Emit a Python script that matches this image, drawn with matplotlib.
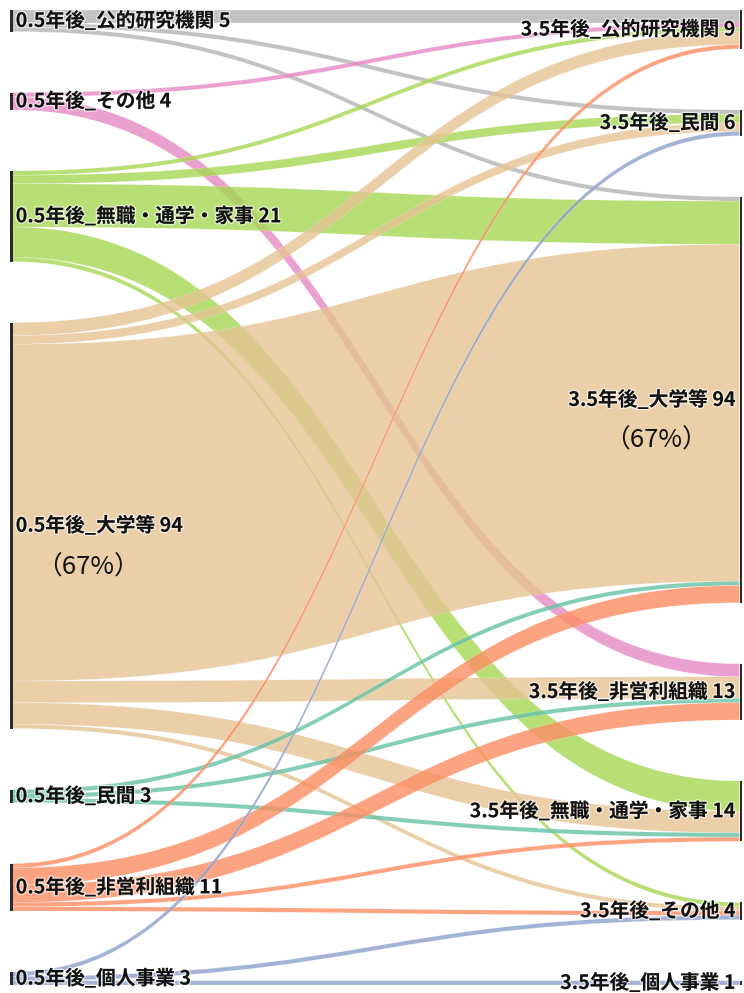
import matplotlib
matplotlib.use('Agg')
import matplotlib.pyplot as plt
from matplotlib.path import Path
from matplotlib.patches import PathPatch, Rectangle
import matplotlib.patheffects as pe

plt.rcParams['font.family'] = ['Noto Sans CJK JP', 'DejaVu Sans']

# ---------------- data ----------------
left_prefix = '0.5年後_'
right_prefix = '3.5年後_'
left_names = ['公的研究機関', 'その他', '無職・通学・家事', '大学等', '民間', '非営利組織', '個人事業']
right_names = ['公的研究機関', '民間', '大学等', '非営利組織', '無職・通学・家事', 'その他', '個人事業']
left_colors = ['#b3b3b3', '#e78ac3', '#a6d854', '#e5c494', '#66c2a5', '#fc8d62', '#8da0cb']

link_source = [0, 0, 0,
               1, 1,
               2, 2, 2, 2, 2,
               3, 3, 3, 3, 3, 3,
               4, 4, 4,
               5, 5, 5, 5, 5,
               6, 6, 6]
link_target = [0, 1, 2,
               0, 3,
               0, 1, 2, 4, 5,
               0, 1, 2, 3, 4, 5,
               2, 3, 4,
               0, 2, 3, 4, 5,
               1, 5, 6]
link_value = [3, 1, 1,
              1, 3,
              1, 2, 10, 7, 1,
              3, 2, 78, 5, 5, 1,
              1, 1, 1,
              1, 4, 4, 1, 1,
              1, 1, 1]
pct_node = '大学等'

# ---------------- layout ----------------
W, H = 744, 993
x_left, x_right = 10.0, 739.5
node_w = 2.7
top, bottom, pad = 10.0, 985.0, 61.0
alpha = 0.8

nL, nR = len(left_names), len(right_names)
left_tot = [sum(v for s, v in zip(link_source, link_value) if s == i) for i in range(nL)]
right_tot = [sum(v for t, v in zip(link_target, link_value) if t == j) for j in range(nR)]
grand = sum(link_value)
k = (bottom - top - pad * (nL - 1)) / grand


def starts(tot):
    out, y = [], top
    for v in tot:
        out.append(y)
        y += v * k + pad
    return out


left_y = starts(left_tot)
right_y = starts(right_tot)

fig = plt.figure(figsize=(W / 100, H / 100), dpi=100)
ax = fig.add_axes([0, 0, 1, 1])
ax.set_xlim(0, W)
ax.set_ylim(H, 0)
ax.axis('off')

idx = list(range(len(link_value)))
src_off = {}
cur = {i: left_y[i] for i in range(nL)}
for l in sorted(idx, key=lambda l: (link_source[l], link_target[l])):
    src_off[l] = cur[link_source[l]]
    cur[link_source[l]] += link_value[l] * k
tgt_off = {}
cur = {j: right_y[j] for j in range(nR)}
for l in sorted(idx, key=lambda l: (link_target[l], link_source[l])):
    tgt_off[l] = cur[link_target[l]]
    cur[link_target[l]] += link_value[l] * k

x0 = x_left + node_w
x1 = x_right
xm = (x0 + x1) / 2
for l in idx:
    s0 = src_off[l]
    s1 = s0 + link_value[l] * k
    t0 = tgt_off[l]
    t1 = t0 + link_value[l] * k
    verts = [(x0, s0), (xm, s0), (xm, t0), (x1, t0),
             (x1, t1), (xm, t1), (xm, s1), (x0, s1), (x0, s0)]
    codes = [Path.MOVETO, Path.CURVE4, Path.CURVE4, Path.CURVE4,
             Path.LINETO, Path.CURVE4, Path.CURVE4, Path.CURVE4, Path.CLOSEPOLY]
    ax.add_patch(PathPatch(Path(verts, codes), facecolor=left_colors[link_source[l]],
                           alpha=alpha, edgecolor='white', linewidth=0.15, zorder=2))

for i in range(nL):
    ax.add_patch(Rectangle((x_left, left_y[i]), node_w, left_tot[i] * k,
                           facecolor='#2a2a2a', edgecolor='none', zorder=3))
for j in range(nR):
    ax.add_patch(Rectangle((x_right, right_y[j]), node_w, right_tot[j] * k,
                           facecolor='#2a2a2a', edgecolor='none', zorder=3))

fx = [pe.withStroke(linewidth=2.0, foreground=(1, 1, 1, 0.6))]
fs = 14.2
pct_fs = 18.5
for i in range(nL):
    yc = left_y[i] + left_tot[i] * k / 2
    ax.text(x0 + 3, yc, f'{left_prefix}{left_names[i]} {left_tot[i]}', ha='left', va='center',
            fontsize=fs, fontweight='bold', color='#111111', zorder=5, path_effects=fx)
    if left_names[i] == pct_node:
        ax.text(x0 + 3 + 72, yc + 42, f'（{round(100 * left_tot[i] / grand)}%）', ha='center', va='center',
                fontsize=pct_fs, color='#111111', zorder=5)
for j in range(nR):
    yc = right_y[j] + right_tot[j] * k / 2
    ax.text(x_right - 4, yc, f'{right_prefix}{right_names[j]} {right_tot[j]}', ha='right', va='center',
            fontsize=fs, fontweight='bold', color='#111111', zorder=5, path_effects=fx)
    if right_names[j] == pct_node:
        ax.text(x_right - 4 - 80, yc + 41, f'（{round(100 * right_tot[j] / grand)}%）', ha='center', va='center',
                fontsize=pct_fs, color='#111111', zorder=5)

fig.savefig('out.png', dpi=100)
